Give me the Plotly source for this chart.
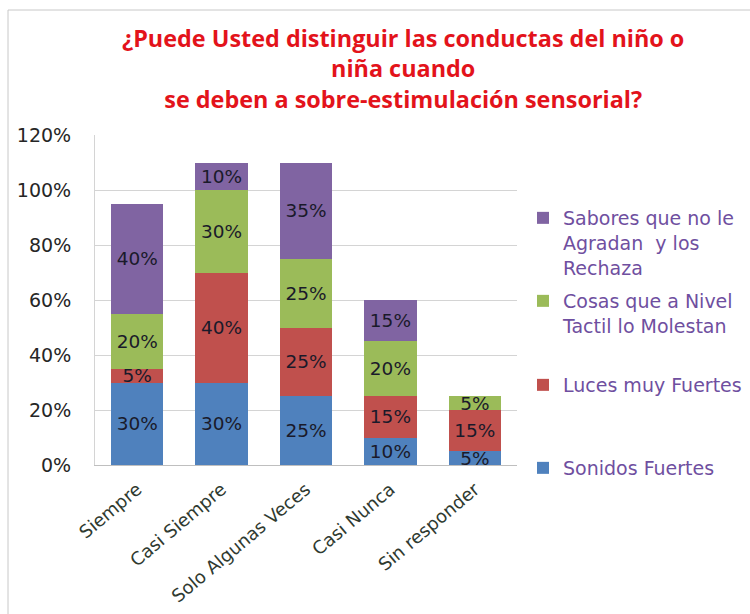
import plotly.graph_objects as go

categories = ["Siempre", "Casi Siempre", "Solo Algunas Veces", "Casi Nunca", "Sin responder"]

sonidos = [30, 30, 25, 10, 5]
luces = [5, 40, 25, 15, 15]
cosas = [20, 30, 25, 20, 5]
sabores = [40, 10, 35, 15, 0]

series = [
    ("Sonidos Fuertes", sonidos, "#4F81BD", "legend4"),
    ("Luces muy Fuertes", luces, "#C0504D", "legend3"),
    ("Cosas que a Nivel<br>Tactil lo Molestan", cosas, "#9BBB59", "legend2"),
    ("Sabores que no le<br>Agradan  y los<br>Rechaza", sabores, "#8064A2", "legend"),
]

y_ticks = [0, 20, 40, 60, 80, 100, 120]
title_text = ("¿Puede Usted distinguir las conductas del niño o<br>"
              "niña cuando<br>se deben a sobre-estimulación sensorial?")

FONT = "DejaVu Sans"
TITLE_FONT = "Open Sans"
W, H = 750, 614
L, R, T, B = 95, 233, 135, 149

fig = go.Figure()
for name, vals, color, leg in series:
    fig.add_trace(go.Bar(
        x=categories, y=vals, name=name, legend=leg,
        marker=dict(color=color, line=dict(width=0)),
        text=[f"{v}%" if v else "" for v in vals],
        textposition="inside", insidetextanchor="middle", textangle=0,
        textfont=dict(family=FONT, size=18.5, color="#1a1a2a"),
        constraintext="none",
    ))

# paper coordinates for a pixel position on the page
def px_x(x):
    return (x - L) / (W - L - R)

def px_y(y):
    return (H - B - y) / (H - T - B)

legend_style = dict(
    font=dict(family=FONT, size=19, color="#6F4FA0"),
    bgcolor="rgba(0,0,0,0)", borderwidth=0, itemwidth=30,
    xanchor="left", yanchor="top", valign="top",
    itemclick=False, itemdoubleclick=False,
    tracegroupgap=0,
)
legend_tops = {"legend": 199, "legend2": 282, "legend3": 366, "legend4": 449}
legends = {k: dict(legend_style, x=px_x(523), y=px_y(v)) for k, v in legend_tops.items()}

fig.update_layout(
    width=W, height=H,
    margin=dict(l=L, r=R, t=T, b=B, autoexpand=False),
    paper_bgcolor="white", plot_bgcolor="white",
    barmode="stack", bargap=0.38,
    showlegend=True,
    uniformtext=dict(minsize=18, mode="show"),
    xaxis=dict(
        tickangle=-40, tickfont=dict(family=FONT, size=18, color="#2f3a30"),
        showline=True, linecolor="#BFBFBF", linewidth=1,
        showgrid=False, ticks="", ticklabelstandoff=6,
    ),
    yaxis=dict(
        range=[0, 120], tickvals=y_ticks, ticktext=[f"{v}%" for v in y_ticks],
        tickfont=dict(family=FONT, size=19, color="#262626"),
        showgrid=True, gridcolor="#D4D4D4", gridwidth=1,
        showline=True, linecolor="#D4D4D4", linewidth=1,
        zeroline=False, ticks="", ticklabelstandoff=19,
    ),
    annotations=[dict(
        text=title_text, xref="paper", yref="paper",
        x=px_x(403), y=px_y(20), xanchor="center", yanchor="top",
        showarrow=False, align="center",
        font=dict(family=TITLE_FONT, size=23.4, color="#E3131B", weight="bold"),
    )],
    shapes=[dict(
        type="rect", xref="paper", yref="paper",
        x0=px_x(8), x1=px_x(760), y0=px_y(10), y1=px_y(640),
        line=dict(color="#C8C8C8", width=1), fillcolor="rgba(0,0,0,0)",
        layer="below",
    )],
    **legends,
)

fig.write_html("out.html")
